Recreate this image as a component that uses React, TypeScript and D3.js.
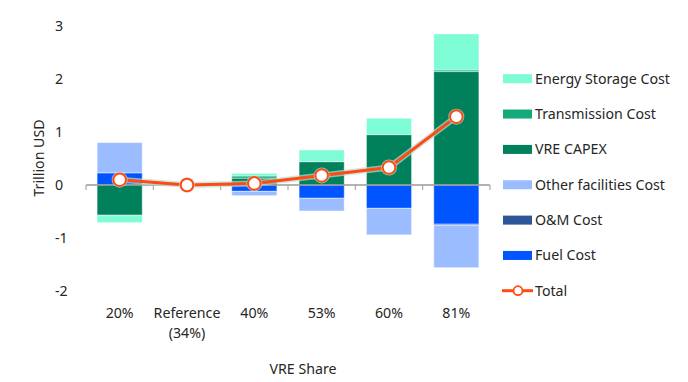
import React from "react";
import * as d3 from "d3";

const categories = ["20%", "Reference|(34%)", "40%", "53%", "60%", "81%"];
const energyStorage = [-0.13, 0, 0.05, 0.22, 0.31, 0.68];
const transmission = [-0.01, 0, 0.04, 0.0, 0.0, 0.03];
const vreCapex = [-0.57, 0, 0.13, 0.44, 0.95, 2.14];
const otherFacilities = [0.57, 0, -0.08, -0.24, -0.5, -0.8];
const omCost = [0, 0, 0, 0, 0, -0.02];
const fuelCost = [0.23, 0, -0.12, -0.25, -0.44, -0.74];
const total = [0.1, 0, 0.03, 0.18, 0.33, 1.29];
const yTicks = [-2, -1, 0, 1, 2, 3];

const seriesKeys = ["fuel", "om", "other", "vre", "trans", "storage"];
const seriesColors: Record<string, string> = {
  storage: "#7dfcd5",
  trans: "#14a97a",
  vre: "#00805b",
  other: "#9bbcff",
  om: "#2e5597",
  fuel: "#0055ff",
};
const legendItems = [
  { key: "storage", label: "Energy Storage Cost" },
  { key: "trans", label: "Transmission Cost" },
  { key: "vre", label: "VRE CAPEX" },
  { key: "other", label: "Other facilities Cost" },
  { key: "om", label: "O&M Cost" },
  { key: "fuel", label: "Fuel Cost" },
];

const FONT = "'Noto Sans', 'Open Sans', sans-serif";
const TEXT = "#262626";
const LINE = "#ff4a12";
const FS = 14.2;

export default function App() {
  const rows = categories.map((c, i) => ({
    cat: c,
    storage: energyStorage[i],
    trans: transmission[i],
    vre: vreCapex[i],
    other: otherFacilities[i],
    om: omCost[i],
    fuel: fuelCost[i],
  }));
  const stacked = d3
    .stack<any>()
    .keys(seriesKeys)
    .offset(d3.stackOffsetDiverging)(rows);

  const x = d3
    .scaleBand<string>()
    .domain(categories)
    .range([86, 490])
    .paddingInner(0.33)
    .paddingOuter(0.165);
  const y = d3.scaleLinear().domain([-2, 3]).range([291, 26]);

  const lineGen = d3
    .line<number>()
    .x((_, i) => (x(categories[i]) as number) + x.bandwidth() / 2)
    .y((d) => y(d));

  const step = x.step();
  const boundaries = d3.range(categories.length + 1).map((i) => 86 + i * step);

  return (
    <svg
      width={688}
      height={382}
      style={{ position: "absolute", left: 0, top: 0, background: "#fff" }}
      fontFamily={FONT}
    >
      {/* bars */}
      {stacked.map((s) => (
        <g key={s.key} fill={seriesColors[s.key]}>
          {s.map((d, i) => {
            const h = Math.abs(y(d[0]) - y(d[1]));
            if (h < 0.01) return null;
            return (
              <rect
                key={i}
                x={x(categories[i])}
                y={Math.min(y(d[0]), y(d[1]))}
                width={x.bandwidth()}
                height={h}
                stroke="#ffffff"
                strokeOpacity={0.45}
                strokeWidth={1}
              />
            );
          })}
        </g>
      ))}

      {/* zero axis */}
      <line x1={86} x2={490} y1={y(0)} y2={y(0)} stroke="#9a9a9a" strokeWidth={1.3} />
      {boundaries.map((bx, i) => (
        <line key={i} x1={bx} x2={bx} y1={y(0)} y2={y(0) + 5} stroke="#9a9a9a" strokeWidth={1} />
      ))}

      {/* total line */}
      <path d={lineGen(total) || ""} fill="none" stroke="#b9ddd2" strokeOpacity={0.7} strokeWidth={6} />
      <path d={lineGen(total) || ""} fill="none" stroke={LINE} strokeWidth={3} />
      {total.map((v, i) => (
        <g key={i}>
          <circle
            cx={(x(categories[i]) as number) + x.bandwidth() / 2}
            cy={y(v)}
            r={8}
            fill="#cfe6de"
            fillOpacity={0.7}
          />
          <circle
            cx={(x(categories[i]) as number) + x.bandwidth() / 2}
            cy={y(v)}
            r={6.3}
            fill="#ffffff"
            stroke={LINE}
            strokeWidth={2}
          />
        </g>
      ))}

      {/* y tick labels */}
      {yTicks.map((t) => (
        <text key={t} x={55} y={y(t)} dy="0.35em" fontSize={FS} fill={TEXT} textAnchor="start">
          {t}
        </text>
      ))}
      <text
        transform={`translate(44,158) rotate(-90)`}
        textAnchor="middle"
        fontSize={FS}
        fill={TEXT}
      >
        Trillion USD
      </text>

      {/* x tick labels */}
      {categories.map((c) => {
        const cx = (x(c) as number) + x.bandwidth() / 2;
        const parts = c.split("|");
        return (
          <text key={c} x={cx} y={318} textAnchor="middle" fontSize={FS} fill={TEXT}>
            {parts.map((p, j) => (
              <tspan key={j} x={cx} dy={j === 0 ? 0 : 19.5}>
                {p}
              </tspan>
            ))}
          </text>
        );
      })}
      <text x={303} y={374} textAnchor="middle" fontSize={FS} fill={TEXT}>
        VRE Share
      </text>

      {/* legend */}
      {legendItems.map((it, i) => {
        const cy = 78.7 + i * 35.35;
        return (
          <g key={it.key}>
            <rect x={503} y={cy - 4.5} width={29} height={9} fill={seriesColors[it.key]} />
            <text x={535} y={cy} dy="0.35em" fontSize={FS} fill={TEXT}>
              {it.label}
            </text>
          </g>
        );
      })}
      <g>
        <line x1={502} x2={533} y1={290.7} y2={290.7} stroke={LINE} strokeWidth={3} />
        <circle cx={518} cy={290.7} r={4.5} fill="#fff" stroke={LINE} strokeWidth={1.8} />
        <text x={535} y={290.7} dy="0.35em" fontSize={FS} fill={TEXT}>
          Total
        </text>
      </g>
    </svg>
  );
}
